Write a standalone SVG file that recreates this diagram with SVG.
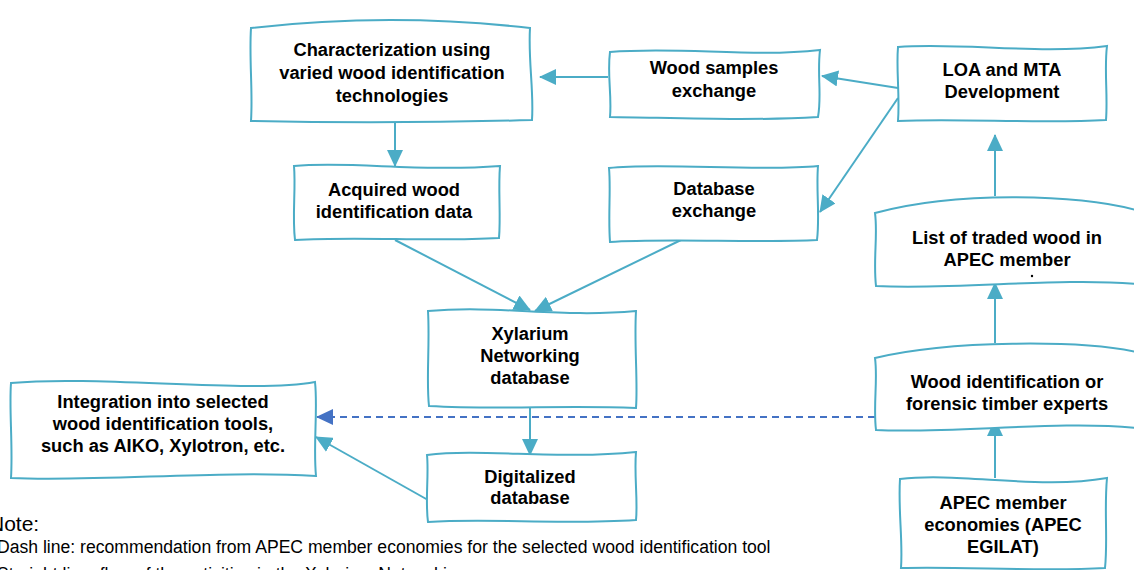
<svg xmlns="http://www.w3.org/2000/svg" width="1134" height="570" viewBox="0 0 1134 570">
<defs>
<style>
.box{fill:#fff;stroke:#4BACC6;stroke-width:2}
.t{font-family:"Liberation Sans",Arial,sans-serif;font-weight:bold;font-size:18.3px;fill:#000;text-anchor:middle}
.c{fill:none;stroke:#4BACC6;stroke-width:2}
.d{fill:none;stroke:#4472C4;stroke-width:1.8;stroke-dasharray:7,5}
.n{font-family:"Liberation Sans",Arial,sans-serif;fill:#000}
</style>
<marker id="a" markerUnits="userSpaceOnUse" markerWidth="17" markerHeight="16" refX="16" refY="8" orient="auto"><path d="M0,0 L17,8 L0,16 Z" fill="#4BACC6"/></marker>
<marker id="b" markerUnits="userSpaceOnUse" markerWidth="17" markerHeight="16" refX="16" refY="8" orient="auto"><path d="M0,0 L17,8 L0,16 Z" fill="#4472C4"/></marker>
</defs>
<g id="connectors">
<path class="c" d="M608,77 L540,77" marker-end="url(#a)"/>
<path class="c" d="M898,88 L822,76" marker-end="url(#a)"/>
<path class="c" d="M898,98 L820,212" marker-end="url(#a)"/>
<path class="c" d="M395,121 L395,166" marker-end="url(#a)"/>
<path class="c" d="M395,240 L530,310" marker-end="url(#a)"/>
<path class="c" d="M681,240 L535,311" marker-end="url(#a)"/>
<path class="c" d="M530,408 L530,455" marker-end="url(#a)"/>
<path class="c" d="M428,500 L316,437" marker-end="url(#a)"/>
<path class="d" d="M875,417 L317,417" marker-end="url(#b)"/>
<path class="c" d="M995,478 L995,420" marker-end="url(#a)"/>
<path class="c" d="M995,343 L995,283" marker-end="url(#a)"/>
<path class="c" d="M995,196 L995,135" marker-end="url(#a)"/>
</g>
<g id="n1"><path class="box" d="M251,28 Q390,12 530,28 C528,60 534,90 532,120 Q390,124 251,121 C253,90 249,60 251,28 Z"/>
<text class="t" x="392" y="56">Characterization using</text><text class="t" x="392" y="79">varied wood identification</text><text class="t" x="392" y="102">technologies</text></g>
<g id="n2"><path class="box" d="M610,52 C680,46 750,58 820,50 C817,75 822,95 818,117 C750,121 680,118 610,117 C612,95 607,75 610,52 Z"/>
<text class="t" x="714" y="74">Wood samples</text><text class="t" x="714" y="97">exchange</text></g>
<g id="n3"><path class="box" d="M898,47 C960,42 1040,55 1107,46 C1104,70 1108,95 1106,120 C1040,124 960,118 898,121 C900,95 896,70 898,47 Z"/>
<text class="t" x="1002" y="76">LOA and MTA</text><text class="t" x="1002" y="98">Development</text></g>
<g id="n4"><path class="box" d="M294,166 C350,161 420,172 500,166 C498,190 501,215 499,238 C430,242 360,236 295,240 C292,215 296,190 294,166 Z"/>
<text class="t" x="394" y="196">Acquired wood</text><text class="t" x="394" y="218">identification data</text></g>
<g id="n5"><path class="box" d="M609,168 C660,162 760,172 818,166 C816,190 820,215 817,240 C760,243 660,238 610,242 C608,215 611,190 609,168 Z"/>
<text class="t" x="714" y="195">Database</text><text class="t" x="714" y="217">exchange</text></g>
<g id="n6"><path class="box" d="M875,213 C960,190 1080,195 1136,210 L1136,284 C1060,277 960,290 876,286 C873,260 878,235 875,213 Z"/>
<text class="t" x="1007" y="244">List of traded wood in</text><text class="t" x="1007" y="266">APEC member</text><circle cx="1032" cy="276" r="1.2" fill="#000"/></g>
<g id="n7"><path class="box" d="M875,358 C950,340 1080,340 1136,352 L1136,428 C1060,420 950,434 876,430 C873,405 878,380 875,358 Z"/>
<text class="t" x="1007" y="388">Wood identification or</text><text class="t" x="1007" y="410">forensic timber experts</text></g>
<g id="n8"><path class="box" d="M900,479 C960,472 1040,490 1107,478 C1104,510 1108,540 1105,568 C1040,572 960,566 901,568 C903,540 898,510 900,479 Z"/>
<text class="t" x="1003" y="509">APEC member</text><text class="t" x="1003" y="531">economies (APEC</text><text class="t" x="1003" y="553">EGILAT)</text></g>
<g id="n9"><path class="box" d="M428,311 C500,305 560,318 636,311 C634,345 638,380 636,408 C560,405 500,410 429,406 C426,380 430,345 428,311 Z"/>
<text class="t" x="530" y="340">Xylarium</text><text class="t" x="530" y="362">Networking</text><text class="t" x="530" y="384">database</text></g>
<g id="n10"><path class="box" d="M427,455 C480,448 560,460 636,452 C634,475 638,500 636,520 C560,525 490,518 428,522 C425,500 429,475 427,455 Z"/>
<text class="t" x="530" y="483">Digitalized</text><text class="t" x="530" y="504">database</text></g>
<g id="n11"><path class="box" d="M11,383 C100,375 250,394 315,382 C318,410 313,445 316,476 C220,470 100,482 11,478 C13,445 9,410 11,383 Z"/>
<text class="t" x="163" y="408">Integration into selected</text><text class="t" x="163" y="430">wood identification tools,</text><text class="t" x="163" y="452">such as AIKO, Xylotron, etc.</text></g>
<g id="note">
<text class="n" x="-11" y="531" font-size="21">Note:</text>
<text class="n" x="-3" y="553" font-size="17.6">Dash line: recommendation from APEC member economies for the selected wood identification tool</text>
<text class="n" x="-3" y="580" font-size="17.6" fill="#555">Straight line: flow of the activities in the Xylarium Networking</text>
</g>
</svg>
